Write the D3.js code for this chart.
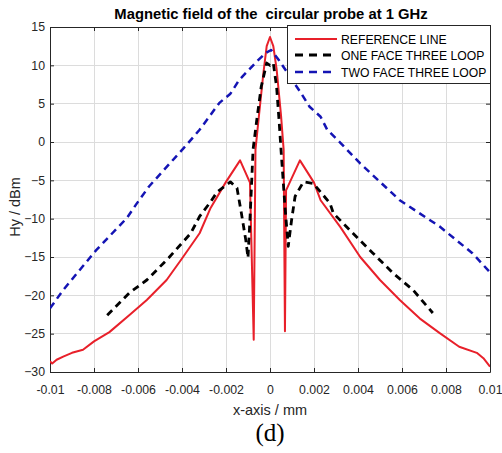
<!DOCTYPE html>
<html><head><meta charset="utf-8">
<script src="https://cdn.jsdelivr.net/npm/d3@7"></script>
<style>
body{margin:0;background:#fff;}
svg{display:block;font-family:Arial,"Liberation Sans",Helvetica,sans-serif;}
</style></head>
<body>
<svg id="chart" width="502" height="453"></svg>
<script>
const titleText = "Magnetic field of the  circular probe at 1 GHz";
const xLabel = "x-axis / mm";
const yLabel = "Hy / dBm";
const caption = "(d)";
const seriesNames = ["REFERENCE LINE", "ONE FACE THREE LOOP", "TWO FACE THREE LOOP"];
const xTicks = [-0.01,-0.008,-0.006,-0.004,-0.002,0,0.002,0.004,0.006,0.008,0.01];
const xTickLabels = ["-0.01","-0.008","-0.006","-0.004","-0.002","0","0.002","0.004","0.006","0.008","0.01"];
const yTicks = [-30,-25,-20,-15,-10,-5,0,5,10,15];

// REFERENCE LINE
const refX = [-0.0100,-0.0099,-0.0097,-0.0094,-0.0090,-0.0085,-0.0080,-0.0073,-0.0064,-0.0056,-0.0047,-0.0040,-0.0032,-0.0027,-0.0020,-0.00136,-0.00091,-0.00074,-0.00066,-0.0005,-0.0003,-0.00015,0,0.00015,0.0003,0.0005,0.00062,0.00068,0.00073,0.00136,0.0020,0.0023,0.0032,0.0041,0.0050,0.0059,0.0068,0.0077,0.0086,0.0094,0.0097,0.0100];
const refY = [-28.6,-28.9,-28.4,-28.0,-27.5,-27.1,-26.0,-24.8,-22.6,-20.6,-18.0,-15.2,-11.9,-8.6,-5.2,-2.4,-5.3,-25.8,-1.0,3.5,9.0,12.5,13.7,12.5,9.5,3.5,-1.0,-24.7,-6.3,-2.4,-5.3,-7.6,-11.1,-15.0,-18.0,-20.6,-23.0,-24.9,-26.7,-27.5,-28.2,-29.3];

// ONE FACE THREE LOOP
const oneX = [-0.0074,-0.0064,-0.0056,-0.0046,-0.0036,-0.0032,-0.0027,-0.0024,-0.0018,-0.0015,-0.0013,-0.0011,-0.0010,-0.00092,-0.00085,-0.00077,-0.0006,-0.0004,-0.00015,0,0.00015,0.0003,0.00042,0.0005,0.00068,0.00083,0.00098,0.00114,0.00152,0.00197,0.00273,0.00288,0.00377,0.00468,0.00559,0.0065,0.0074];
const oneY = [-22.6,-19.7,-18.0,-15.1,-11.9,-9.7,-7.8,-6.5,-5.2,-6.0,-9.3,-12.8,-15.1,-10.6,-6.3,-1.0,2.9,7.2,10.3,10.0,10.3,7.2,2.5,-1.0,-8.4,-13.6,-10.2,-7.1,-5.2,-5.4,-8.0,-9.3,-11.9,-14.5,-17.1,-19.3,-22.3];

// TWO FACE THREE LOOP
const twoX = [-0.0100,-0.0094,-0.0079,-0.0065,-0.0061,-0.0055,-0.0038,-0.0032,-0.0023,-0.0018,-0.0014,-0.0006,-0.0002,0.00005,0.0004,0.0011,0.00136,0.0018,0.0023,0.0026,0.0032,0.0041,0.0059,0.0077,0.0092,0.0100];
const twoY = [-21.7,-19.3,-14.1,-9.9,-8.2,-5.8,-0.4,1.6,5.1,6.3,8.1,10.5,11.6,12.0,10.7,7.7,6.6,4.6,3.3,1.6,-0.1,-2.8,-7.6,-11.0,-14.5,-17.0];

const colors = ["#e8202a","#000000","#1414b4"];

const m = {left:50, right:490, top:27, bottom:372};
const svg = d3.select("#chart");
const x = d3.scaleLinear().domain([-0.01,0.01]).range([m.left,m.right]);
const y = d3.scaleLinear().domain([-30,15]).range([m.bottom,m.top]);

svg.append("rect").attr("x",m.left).attr("y",m.top).attr("width",m.right-m.left).attr("height",m.bottom-m.top).attr("fill","#fff");

// grid
const grid = svg.append("g");
grid.selectAll(".gx").data(xTicks).join("line")
  .attr("x1",d=>x(d)).attr("x2",d=>x(d)).attr("y1",m.top).attr("y2",m.bottom)
  .attr("stroke","#dcdcdc").attr("stroke-width",1).attr("shape-rendering","crispEdges");
grid.selectAll(".gy").data(yTicks).join("line")
  .attr("y1",d=>y(d)).attr("y2",d=>y(d)).attr("x1",m.left).attr("x2",m.right)
  .attr("stroke","#dcdcdc").attr("stroke-width",1).attr("shape-rendering","crispEdges");

// axes
const fmt = (d,i)=>xTickLabels[i];
const axB = svg.append("g").attr("transform",`translate(0,${m.bottom})`)
  .call(d3.axisBottom(x).tickValues(xTicks).tickFormat(fmt).tickSizeInner(-4).tickSizeOuter(0).tickPadding(13));
const axT = svg.append("g").attr("transform",`translate(0,${m.top})`)
  .call(d3.axisTop(x).tickValues(xTicks).tickFormat("").tickSizeInner(-4).tickSizeOuter(0));
const axL = svg.append("g").attr("transform",`translate(${m.left},0)`)
  .call(d3.axisLeft(y).tickValues(yTicks).tickSizeInner(-4).tickSizeOuter(0).tickPadding(5));
const axR = svg.append("g").attr("transform",`translate(${m.right},0)`)
  .call(d3.axisRight(y).tickValues(yTicks).tickFormat("").tickSizeInner(-4).tickSizeOuter(0));
[axB,axT,axL,axR].forEach(a=>{
  a.selectAll("path.domain").attr("stroke","#262626").attr("stroke-width",1);
  a.selectAll(".tick line").attr("stroke","#262626");
  a.selectAll("text").attr("fill","#262626").attr("font-size","12.3px").attr("font-family","Arial, Liberation Sans, sans-serif");
});

// clip
svg.append("clipPath").attr("id","clip").append("rect")
  .attr("x",m.left).attr("y",m.top).attr("width",m.right-m.left).attr("height",m.bottom-m.top);

const line = d3.line().x(d=>x(d[0])).y(d=>y(d[1]));
const series = [
  {xs:refX, ys:refY, color:colors[0], w:2, dash:null},
  {xs:oneX, ys:oneY, color:colors[1], w:2.8, dash:"7,5"},
  {xs:twoX, ys:twoY, color:colors[2], w:2.5, dash:"7,5"}
];
const gl = svg.append("g").attr("clip-path","url(#clip)");
series.forEach(s=>{
  gl.append("path").datum(s.xs.map((v,i)=>[v,s.ys[i]]))
    .attr("d",line).attr("fill","none").attr("stroke",s.color)
    .attr("stroke-width",s.w).attr("stroke-dasharray",s.dash).attr("stroke-linejoin","round");
});

// title
svg.append("text").attr("x",271).attr("y",19).attr("text-anchor","middle")
  .style("white-space","pre")
  .attr("font-weight","bold").attr("font-size","14.8px").attr("fill","#000").text(titleText);
// axis labels
svg.append("text").attr("x",270).attr("y",415).attr("text-anchor","middle")
  .attr("font-size","14.5px").attr("fill","#262626").text(xLabel);
svg.append("text").attr("transform",`translate(20,207) rotate(-90)`).attr("text-anchor","middle")
  .attr("font-size","14.5px").attr("fill","#262626").text(yLabel);
svg.append("text").attr("x",270).attr("y",441).attr("text-anchor","middle")
  .attr("font-family","Liberation Serif, Times New Roman, serif").attr("font-size","25px").attr("fill","#000").text(caption);

// legend
const lg = svg.append("g");
lg.append("rect").attr("x",287.5).attr("y",25.5).attr("width",203).attr("height",58)
  .attr("fill","#fff").attr("stroke","#262626").attr("stroke-width",1);
const rowsY = [39,55,72];
seriesNames.forEach((n,i)=>{
  const s = series[i];
  lg.append("line").attr("x1",295).attr("x2",337).attr("y1",rowsY[i]).attr("y2",rowsY[i])
    .attr("stroke",s.color).attr("stroke-width",s.w).attr("stroke-dasharray",s.dash?"8,6":null);
  lg.append("text").attr("x",341).attr("y",rowsY[i]+4.5).attr("font-size","12.2px").attr("fill","#000").text(n);
});
</script>
</body></html>
